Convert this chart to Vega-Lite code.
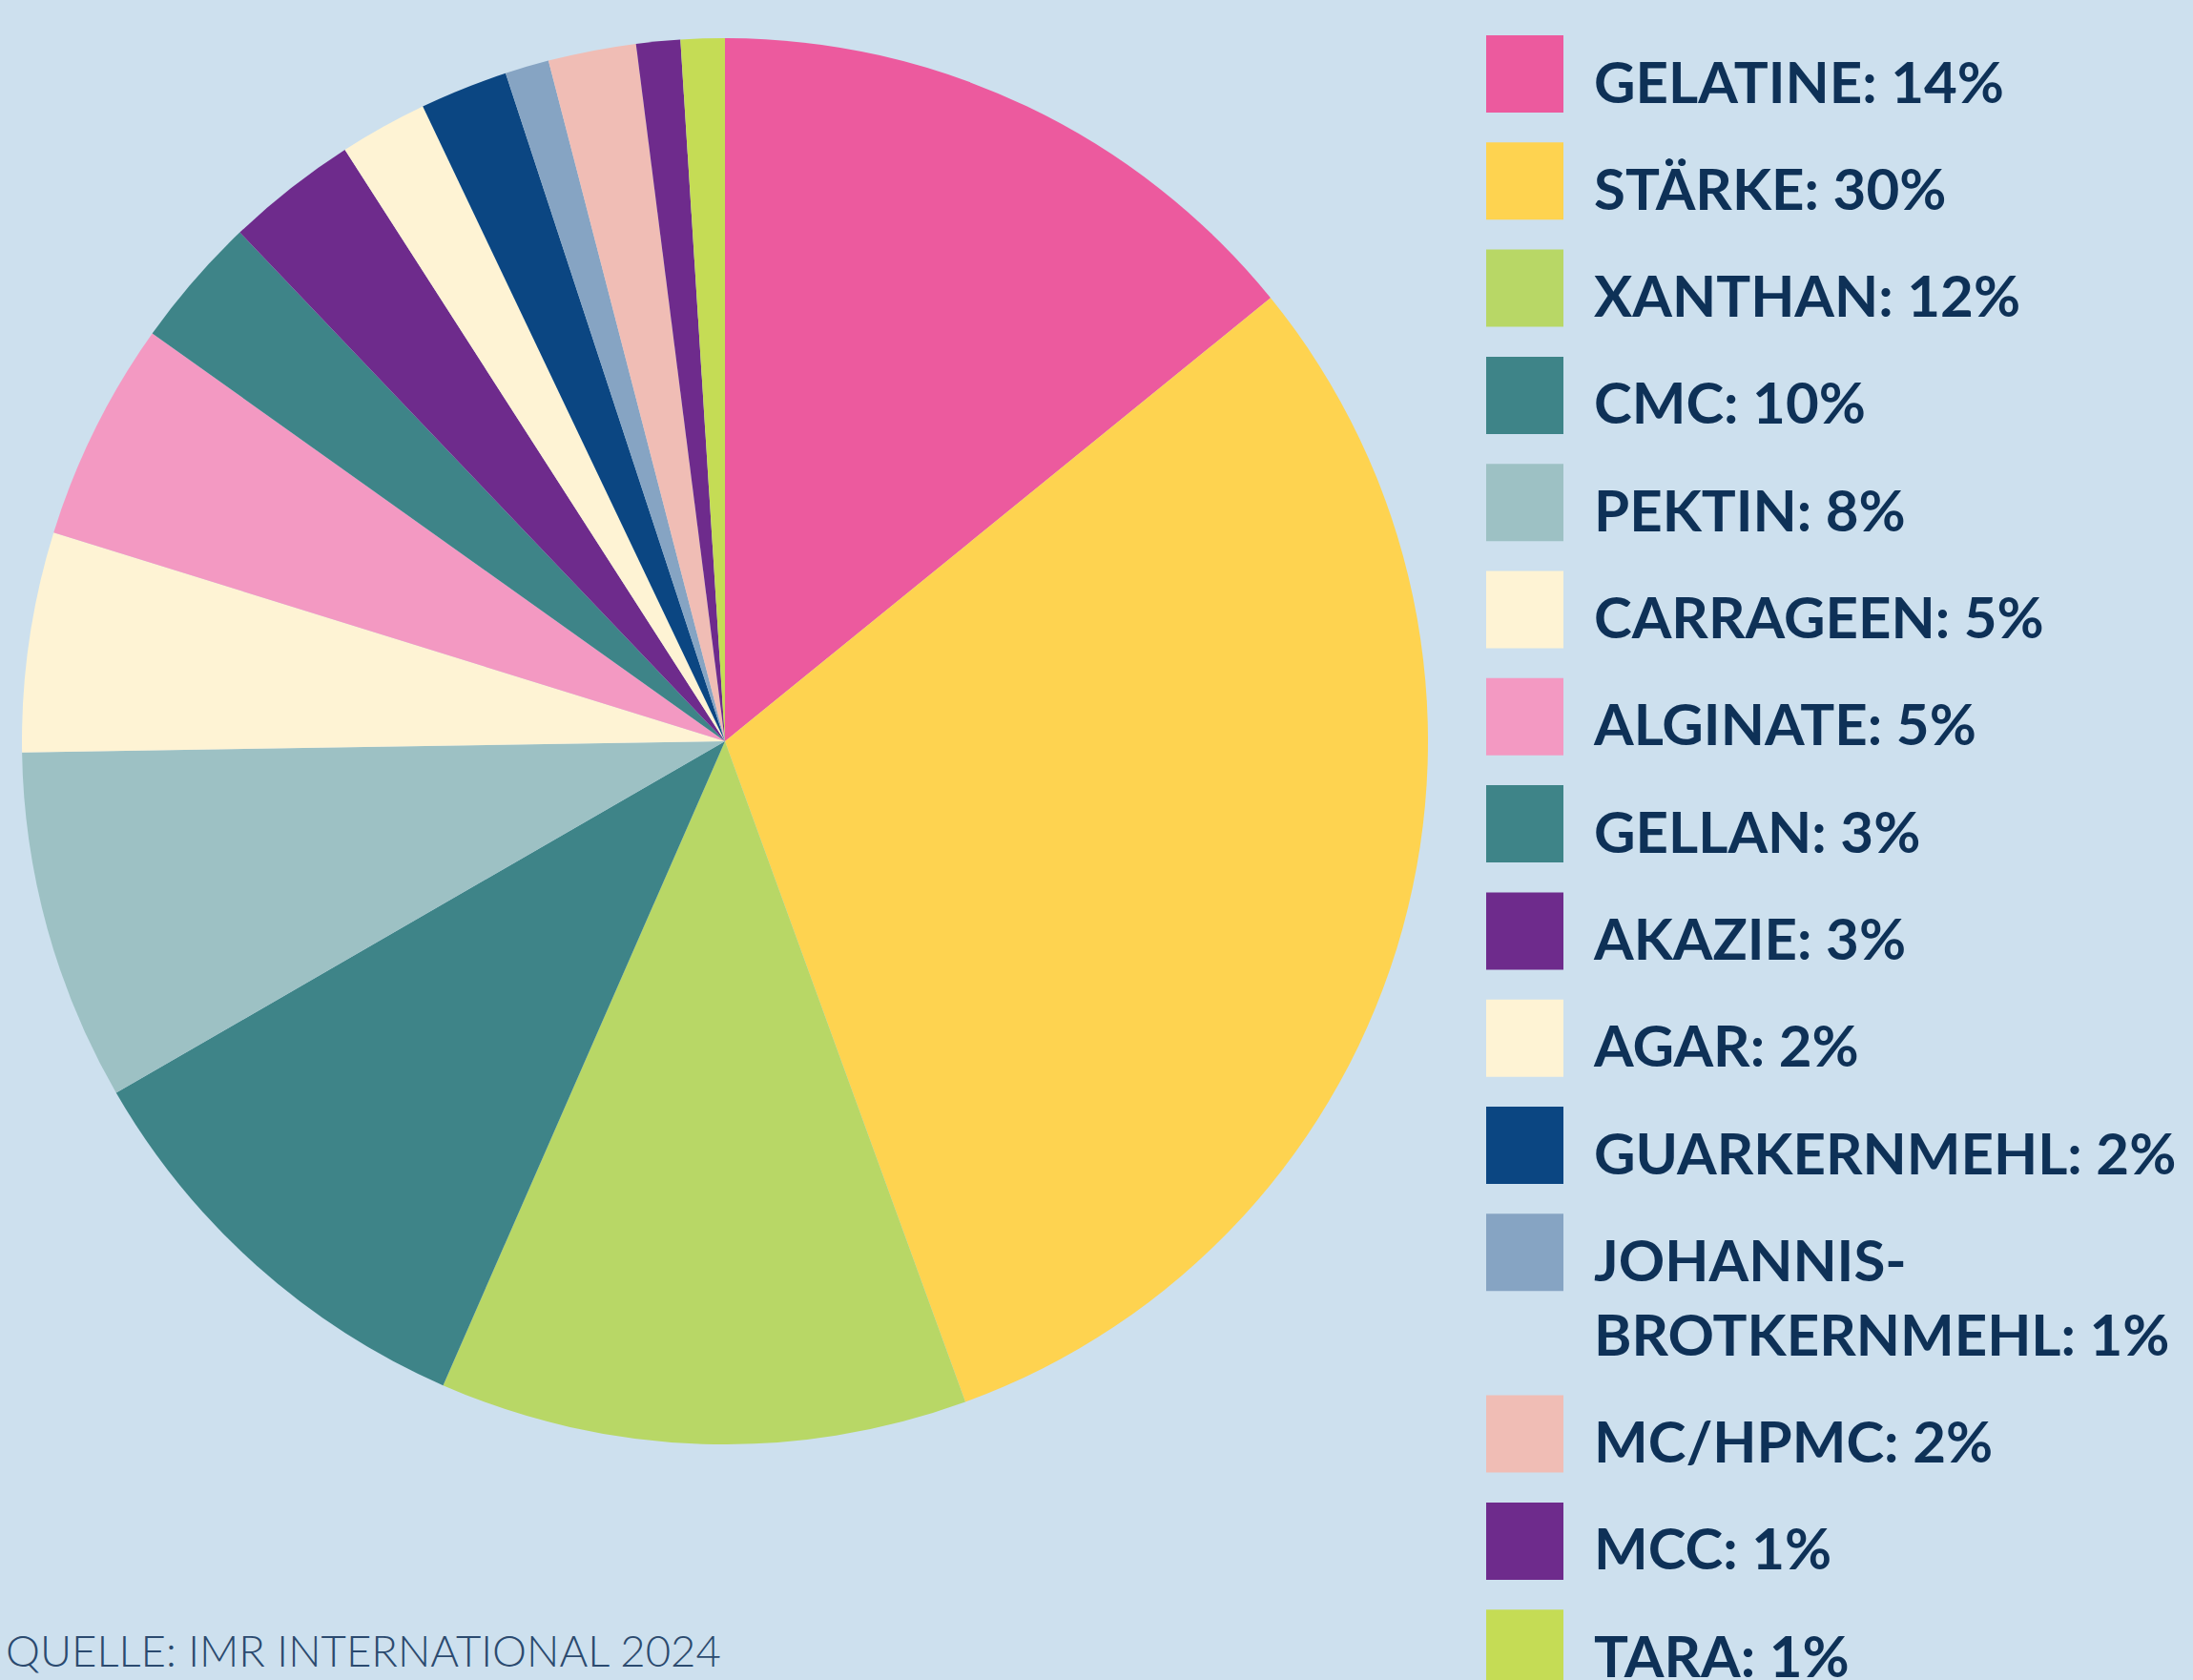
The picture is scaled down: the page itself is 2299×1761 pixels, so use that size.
{
  "$schema": "https://vega.github.io/schema/vega-lite/v6.json",
  "width": 1520,
  "height": 1554,
  "autosize": "none",
  "padding": {"left": 0, "top": 0, "right": 779, "bottom": 207},
  "background": "#CDE0EE",
  "view": {"stroke": null},
  "title": {
    "text": "QUELLE: IMR INTERNATIONAL 2024",
    "orient": "bottom",
    "anchor": "start",
    "frame": "group",
    "offset": -23,
    "baseline": "alphabetic",
    "fontSize": 45.5,
    "font": "Lato",
    "fontWeight": 300,
    "color": "#2B4A6F",
    "dx": 6
  },
  "data": {
    "values": [
      {"rank": 1, "label": "GELATINE: 14%", "share": 14},
      {"rank": 2, "label": "STÄRKE: 30%", "share": 30},
      {"rank": 3, "label": "XANTHAN: 12%", "share": 12},
      {"rank": 4, "label": "CMC: 10%", "share": 10},
      {"rank": 5, "label": "PEKTIN: 8%", "share": 8},
      {"rank": 6, "label": "CARRAGEEN: 5%", "share": 5},
      {"rank": 7, "label": "ALGINATE: 5%", "share": 5},
      {"rank": 8, "label": "GELLAN: 3%", "share": 3},
      {"rank": 9, "label": "AKAZIE: 3%", "share": 3},
      {"rank": 10, "label": "AGAR: 2%", "share": 2},
      {"rank": 11, "label": "GUARKERNMEHL: 2%", "share": 2},
      {"rank": 12, "label": "JOHANNIS-\nBROTKERNMEHL: 1%", "share": 1},
      {"rank": 13, "label": "MC/HPMC: 2%", "share": 2},
      {"rank": 14, "label": "MCC: 1%", "share": 1},
      {"rank": 15, "label": "TARA: 1%", "share": 1}
    ]
  },
  "mark": {"type": "arc", "radius": 737, "strokeWidth": 0},
  "encoding": {
    "theta": {"field": "share", "type": "quantitative", "stack": true},
    "order": {"field": "rank", "type": "quantitative"},
    "color": {
      "field": "label",
      "type": "nominal",
      "sort": null,
      "scale": {
        "domain": ["GELATINE: 14%", "STÄRKE: 30%", "XANTHAN: 12%", "CMC: 10%", "PEKTIN: 8%", "CARRAGEEN: 5%", "ALGINATE: 5%", "GELLAN: 3%", "AKAZIE: 3%", "AGAR: 2%", "GUARKERNMEHL: 2%", "JOHANNIS-\nBROTKERNMEHL: 1%", "MC/HPMC: 2%", "MCC: 1%", "TARA: 1%"],
        "range": ["#EC5A9E", "#FED350", "#B8D766", "#3E8488", "#9DC1C4", "#FEF3D4", "#F399C2", "#3E8488", "#6E2B8C", "#FEF3D4", "#0B4682", "#86A4C3", "#F0BDB5", "#6E2B8C", "#C5DC55"]
      },
      "legend": {
        "orient": "none",
        "legendX": 1558,
        "legendY": 37,
        "title": null,
        "padding": 0,
        "symbolType": "square",
        "symbolSize": 6561,
        "symbolStrokeWidth": 0,
        "symbolOpacity": 1,
        "labelFont": "Lato",
        "labelFontSize": 60,
        "labelFontWeight": "bold",
        "labelColor": "#0E3157",
        "labelOffset": 32,
        "labelLimit": 900,
        "rowPadding": 29.3,
        "labelExpr": "indexof(datum.label, '\\n') >= 0 ? split(datum.label, '\\n') : datum.label",
        "encode": {
          "symbols": {"update": {"fill": {"signal": "indexof(['PEKTIN: 8%', 'GELLAN: 3%'], datum.value) >= 0 ? '#90B9BC' : scale('color', datum.value)"}}},
          "labels": {"update": {"lineHeight": {"value": 78}, "dy": {"value": 12}}}
        }
      }
    }
  }
}
